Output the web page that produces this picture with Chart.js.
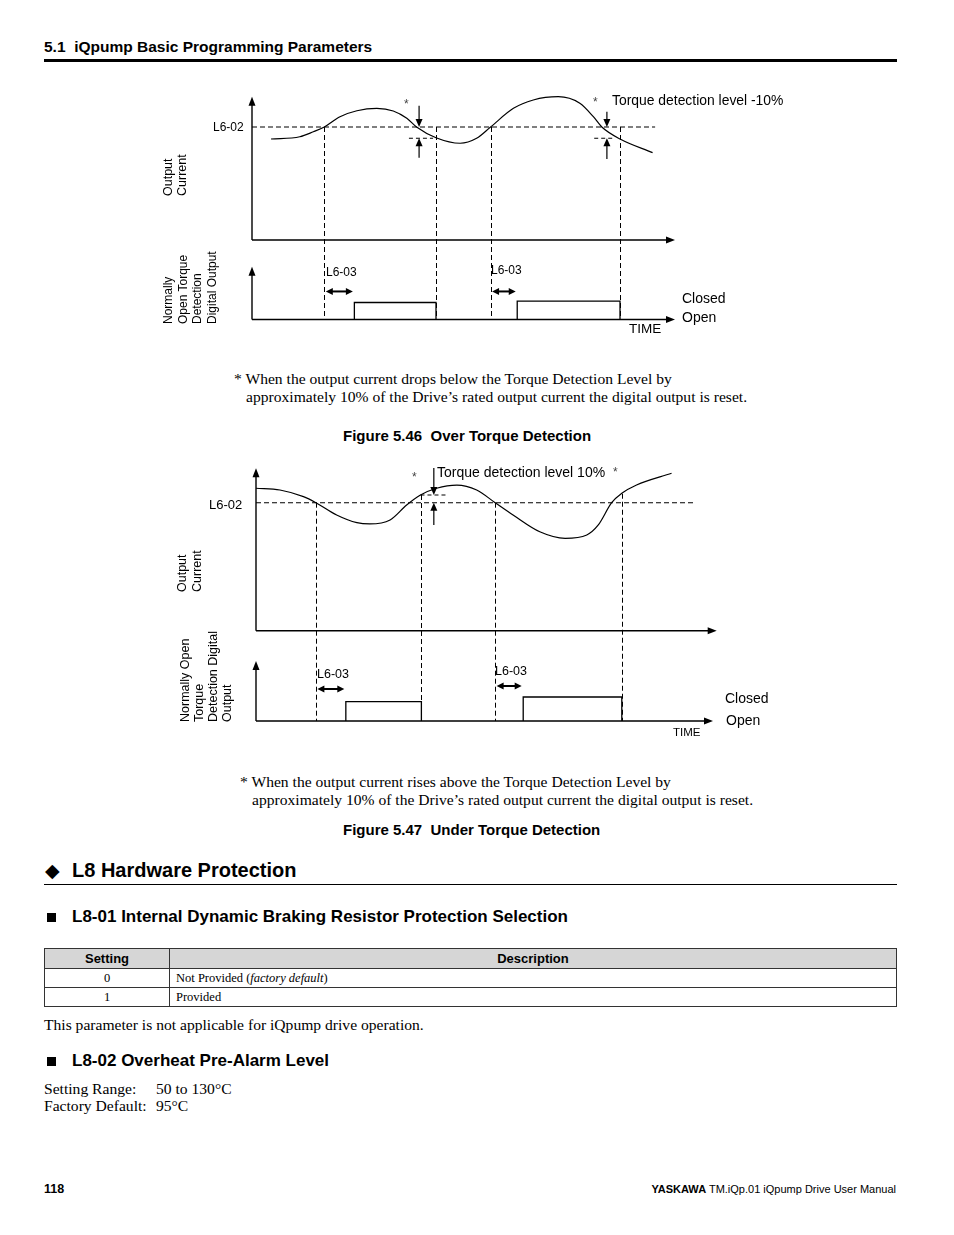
<!DOCTYPE html>
<html><head><meta charset="utf-8">
<script src="https://cdn.jsdelivr.net/npm/chart.js@4/dist/chart.umd.min.js"></script>
<style>
html,body{margin:0;padding:0;background:#fff;}
#page{position:relative;width:954px;height:1235px;overflow:hidden;font-family:"Liberation Sans",Arial,sans-serif;color:#000;}
.t{position:absolute;white-space:nowrap;}
.s{font-family:"Liberation Serif","Times New Roman",serif;}
.b{font-weight:bold;}
.star{position:absolute;font-size:12px;line-height:14px;color:#444;}
.rot{position:absolute;transform:rotate(-90deg);transform-origin:center center;text-align:left;white-space:nowrap;}
canvas{position:absolute;}
table.p{position:absolute;left:44px;top:948px;width:853px;border-collapse:collapse;}
table.p th{font:bold 13px "Liberation Sans",Arial,sans-serif;background:#d6d6d6;border:1px solid #333;height:19px;padding:0;}
table.p td{font:12.5px "Liberation Serif","Times New Roman",serif;border:1px solid #333;height:18px;padding:0 6px;}
table.p td.c{text-align:center;padding:0;}
</style></head>
<body><div id="page">

<div class="t b" style="left:44px;top:38px;font-size:15.5px;line-height:18px">5.1&nbsp;&nbsp;iQpump Basic Programming Parameters</div>
<div style="position:absolute;left:44px;top:59px;width:853px;height:3px;background:#000"></div>

<!-- Figure 5.46 -->
<canvas id="c46" width="650" height="265" style="left:150px;top:85px"></canvas>
<div class="t" style="left:213px;top:120px;font-size:12px;line-height:14px">L6-02</div>
<div class="star" style="left:404px;top:97px">*</div>
<div class="star" style="left:593px;top:95px">*</div>
<div class="t" style="left:612px;top:92px;font-size:13.9px;line-height:16px">Torque detection level -10%</div>
<div class="rot" style="left:145px;top:152px;width:60px;height:28px;font-size:12.5px;line-height:14px">Output<br>Current</div>
<div class="rot" style="left:145px;top:250px;width:90px;height:58px;font-size:12px;line-height:14.6px">Normally<br>Open Torque<br>Detection<br>Digital Output</div>
<div class="t" style="left:326px;top:265px;font-size:12px;line-height:14px">L6-03</div>
<div class="t" style="left:491px;top:263px;font-size:12px;line-height:14px">L6-03</div>
<div class="t" style="left:682px;top:290px;font-size:14px;line-height:16px">Closed</div>
<div class="t" style="left:682px;top:309px;font-size:14px;line-height:16px">Open</div>
<div class="t" style="left:629px;top:321px;font-size:13.5px;line-height:16px">TIME</div>

<div class="t s" style="left:234px;top:370px;font-size:15.6px;line-height:18px">* When the output current drops below the Torque Detection Level by</div>
<div class="t s" style="left:246px;top:388px;font-size:15.6px;line-height:18px">approximately 10% of the Drive’s rated output current the digital output is reset.</div>
<div class="t b" style="left:343px;top:427px;font-size:15px;line-height:18px">Figure 5.46&nbsp;&nbsp;Over Torque Detection</div>

<!-- Figure 5.47 -->
<canvas id="c47" width="650" height="290" style="left:150px;top:455px"></canvas>
<div class="t" style="left:209px;top:497px;font-size:13px;line-height:15px">L6-02</div>
<div class="star" style="left:412px;top:470px">*</div>
<div class="star" style="left:613px;top:465px">*</div>
<div class="t" style="left:437px;top:464px;font-size:14px;line-height:16px">Torque detection level 10%</div>
<div class="rot" style="left:160px;top:547px;width:60px;height:30px;font-size:12.5px;line-height:15px">Output<br>Current</div>
<div class="rot" style="left:157px;top:644px;width:100px;height:56px;font-size:12.5px;line-height:13.9px">Normally Open<br>Torque<br>Detection Digital<br>Output</div>
<div class="t" style="left:317px;top:667px;font-size:12.5px;line-height:14px">L6-03</div>
<div class="t" style="left:495px;top:664px;font-size:12.5px;line-height:14px">L6-03</div>
<div class="t" style="left:725px;top:690px;font-size:14px;line-height:16px">Closed</div>
<div class="t" style="left:726px;top:712px;font-size:14px;line-height:16px">Open</div>
<div class="t" style="left:673px;top:725px;font-size:11.5px;line-height:14px">TIME</div>

<div class="t s" style="left:240px;top:773px;font-size:15.6px;line-height:18px">* When the output current rises above the Torque Detection Level by</div>
<div class="t s" style="left:252px;top:791px;font-size:15.6px;line-height:18px">approximately 10% of the Drive’s rated output current the digital output is reset.</div>
<div class="t b" style="left:343px;top:821px;font-size:15px;line-height:18px">Figure 5.47&nbsp;&nbsp;Under Torque Detection</div>

<!-- Section text -->
<div class="t" style="left:45px;top:858px;font-size:19px;line-height:24px;font-family:'DejaVu Sans',sans-serif">◆</div>
<div class="t b" style="left:72px;top:858px;font-size:20px;line-height:24px">L8 Hardware Protection</div>
<div style="position:absolute;left:44px;top:884px;width:853px;height:1px;background:#000"></div>

<div style="position:absolute;left:47px;top:913px;width:9px;height:9px;background:#000"></div>
<div class="t b" style="left:72px;top:907px;font-size:17px;line-height:20px">L8-01 Internal Dynamic Braking Resistor Protection Selection</div>

<table class="p">
<tr><th style="width:124px">Setting</th><th>Description</th></tr>
<tr><td class="c">0</td><td>Not Provided (<i>factory default</i>)</td></tr>
<tr><td class="c">1</td><td>Provided</td></tr>
</table>

<div class="t s" style="left:44px;top:1016px;font-size:15.6px;line-height:18px">This parameter is not applicable for iQpump drive operation.</div>

<div style="position:absolute;left:47px;top:1057px;width:9px;height:9px;background:#000"></div>
<div class="t b" style="left:72px;top:1051px;font-size:17px;line-height:20px">L8-02 Overheat Pre-Alarm Level</div>

<div class="t s" style="left:44px;top:1080px;font-size:15.6px;line-height:18px">Setting Range:</div>
<div class="t s" style="left:156px;top:1080px;font-size:15.6px;line-height:18px">50 to 130°C</div>
<div class="t s" style="left:44px;top:1097px;font-size:15.6px;line-height:18px">Factory Default:</div>
<div class="t s" style="left:156px;top:1097px;font-size:15.6px;line-height:18px">95°C</div>

<div class="t b" style="left:44px;top:1182px;font-size:12.5px;line-height:15px">118</div>
<div class="t" style="right:58px;top:1183px;font-size:11px;line-height:13px"><b>YASKAWA</b> TM.iQp.01 iQpump Drive User Manual</div>

</div>
<script>
// ---------- Figure 5.46 Over Torque Detection (time units, current in % of L6-02) ----------
const f46Time    = [4.5, 11.3, 14.5, 17.1, 20.8, 24.8, 29.5, 33.4, 36.6, 38.9, 43.5, 49.2, 53.1, 56.4, 61.8, 66.5, 72.4, 77.5, 80.7, 82.7, 87.0, 94.7];
const f46Current = [89.4, 91.4, 95.8, 100, 109.1, 114.4, 116.5, 114.2, 107.7, 100, 90.5, 85.6, 90, 100, 116.5, 123.9, 126.8, 121, 109.1, 100, 89.4, 77.3];
const f46Level = 100;            // L6-02
const f46LevelEnd = 95.3;
const f46Reset = 90;             // L6-02 - 10%
const f46ResetDash = [[37.1, 42.8], [80.9, 85.8]];
const f46Cross = [17.1, 43.5, 56.4, 87.0];
const f46CrossTop = [100, 100, 100, 100];
const f46On = [24.2, 62.7];
const f46Off = [43.5, 87.0];
const f46High = [1.0, 1.08];
const f46DelayY = [1.65, 1.65];
const f46MarkT = [39.5, 83.9];
const f46MarkDown = [[118.8, 100], [113.5, 100]];
const f46MarkUp = [[72.8, 90], [71.7, 90]];
const f46AxisEnd = [100, 100, 126.8, 3.1]; // time axis, digital time axis, current axis top, digital axis top

// ---------- Figure 5.47 Under Torque Detection ----------
const f47Time    = [0, 5.2, 10.3, 13.0, 17.5, 21.9, 24.7, 29.1, 32.7, 35.7, 39.2, 43.6, 47.9, 51.9, 55.8, 61.6, 67.1, 71.8, 74.3, 77.2, 79.4, 82.6, 90.2];
const f47Current = [111.3, 109.9, 104.7, 100, 90.4, 84.4, 83.4, 86.5, 98.2, 106, 111.3, 113.8, 109.9, 100, 90.4, 77.3, 72.2, 74.8, 82.6, 100, 107.3, 113.8, 123.0];
const f47Level = 100;
const f47LevelEnd = 94.9;
const f47Reset = 106;            // L6-02 + 10%
const f47ResetDash = [[35.7, 41.4]];
const f47Cross = [13.0, 35.9, 51.9, 79.4];
const f47CrossTop = [100, 106, 100, 107];
const f47On = [19.5, 58.0];
const f47Off = [35.9, 79.4];
const f47High = [0.97, 1.2];
const f47DelayY = [1.6, 1.75];
const f47MarkT = [38.6];
const f47MarkDown = [[127.1, 106]];
const f47MarkUp = [[82.6, 100]];
const f47AxisEnd = [100, 99.2, 126.9, 3.0];

// layout geometry (page pixels) for each figure
const geo46 = {left:150, top:85, width:650, height:265, x0:252, xPer:4.23, yc0:240, ycPer:1.13, yd0:319.5, ydPer:17};
const geo47 = {left:150, top:455, width:650, height:290, x0:256, xPer:4.607, yc0:630.7, ycPer:1.28, yd0:721, ydPer:20};

function head(ctx, x, y, dir, len, half) {
  ctx.beginPath();
  ctx.moveTo(x, y);
  if (dir === 'up')    { ctx.lineTo(x - half, y + len); ctx.lineTo(x + half, y + len); }
  if (dir === 'down')  { ctx.lineTo(x - half, y - len); ctx.lineTo(x + half, y - len); }
  if (dir === 'right') { ctx.lineTo(x - len, y - half); ctx.lineTo(x - len, y + half); }
  if (dir === 'left')  { ctx.lineTo(x + len, y - half); ctx.lineTo(x + len, y + half); }
  ctx.closePath(); ctx.fill();
}

function build(id, g, d) {
  const pts = d.time.map((t, i) => ({x: t, y: d.cur[i]}));
  const datasets = [
    {data: pts, yAxisID: 'y', borderColor: '#000', borderWidth: 1.2, cubicInterpolationMode: 'monotone'},
    {data: [{x: 0, y: d.level}, {x: d.levelEnd, y: d.level}], yAxisID: 'y', borderColor: '#000', borderWidth: 1.1, borderDash: [5, 3]}
  ];
  d.resetDash.forEach(r => datasets.push({data: [{x: r[0], y: d.reset}, {x: r[1], y: d.reset}], yAxisID: 'y', borderColor: '#000', borderWidth: 1.1, borderDash: [4, 3]}));
  d.on.forEach((on, i) => datasets.push({data: [{x: on, y: 0}, {x: on, y: d.high[i]}, {x: d.off[i], y: d.high[i]}, {x: d.off[i], y: 0}], yAxisID: 'y2', borderColor: '#000', borderWidth: 1.3}));

  const deco = {
    id: 'deco' + id,
    beforeDatasetsDraw(chart) {
      const ctx = chart.ctx, X = chart.scales.x, Yc = chart.scales.y, Yd = chart.scales.y2;
      ctx.save();
      ctx.strokeStyle = '#000'; ctx.lineWidth = 1; ctx.setLineDash([5, 3]);
      d.cross.forEach((t, i) => {
        const x = Math.round(X.getPixelForValue(t)) + 0.5;
        ctx.beginPath(); ctx.moveTo(x, Yc.getPixelForValue(d.crossTop[i])); ctx.lineTo(x, Yd.getPixelForValue(0)); ctx.stroke();
      });
      ctx.restore();
    },
    afterDatasetsDraw(chart) {
      const ctx = chart.ctx, X = chart.scales.x, Yc = chart.scales.y, Yd = chart.scales.y2;
      ctx.save();
      ctx.strokeStyle = '#000'; ctx.fillStyle = '#000'; ctx.setLineDash([]);
      // axes
      ctx.lineWidth = 1.4;
      const x0 = X.getPixelForValue(0), yc0 = Yc.getPixelForValue(0), yd0 = Yd.getPixelForValue(0);
      const xe = X.getPixelForValue(d.axisEnd[0]), xde = X.getPixelForValue(d.axisEnd[1]);
      const yce = Yc.getPixelForValue(d.axisEnd[2]), yde = Yd.getPixelForValue(d.axisEnd[3]);
      ctx.beginPath(); ctx.moveTo(x0, yc0); ctx.lineTo(x0, yce + 6); ctx.moveTo(x0, yc0); ctx.lineTo(xe - 6, yc0); ctx.stroke();
      head(ctx, x0, yce, 'up', 9, 3.5); head(ctx, xe, yc0, 'right', 9, 3.5);
      ctx.beginPath(); ctx.moveTo(x0, yd0); ctx.lineTo(x0, yde + 6); ctx.moveTo(x0, yd0); ctx.lineTo(xde - 6, yd0); ctx.stroke();
      head(ctx, x0, yde, 'up', 9, 3.5); head(ctx, xde, yd0, 'right', 9, 3.5);
      // hysteresis markers
      ctx.lineWidth = 1.2;
      d.markT.forEach((t, i) => {
        const x = X.getPixelForValue(t);
        const a0 = Yc.getPixelForValue(d.markDown[i][0]), a1 = Yc.getPixelForValue(d.markDown[i][1]);
        ctx.beginPath(); ctx.moveTo(x, a0); ctx.lineTo(x, a1 - 5); ctx.stroke(); head(ctx, x, a1, 'down', 8, 3.5);
        const b0 = Yc.getPixelForValue(d.markUp[i][0]), b1 = Yc.getPixelForValue(d.markUp[i][1]);
        ctx.beginPath(); ctx.moveTo(x, b0); ctx.lineTo(x, b1 + 5); ctx.stroke(); head(ctx, x, b1, 'up', 8, 3.5);
      });
      // L6-03 delay double arrows
      ctx.lineWidth = 2;
      d.cross.filter((_, i) => i % 2 === 0).forEach((t, i) => {
        const xa = X.getPixelForValue(t) + 1.5, xb = X.getPixelForValue(d.on[i]) - 1.5, y = Yd.getPixelForValue(d.delayY[i]);
        ctx.beginPath(); ctx.moveTo(xa + 5, y); ctx.lineTo(xb - 5, y); ctx.stroke();
        head(ctx, xa, y, 'left', 7, 3.5); head(ctx, xb, y, 'right', 7, 3.5);
      });
      ctx.restore();
    }
  };

  new Chart(document.getElementById(id), {
    type: 'line',
    data: {datasets},
    options: {
      responsive: false, animation: false, events: [], devicePixelRatio: 1,
      layout: {padding: 0, autoPadding: false},
      elements: {point: {radius: 0, hoverRadius: 0}, line: {tension: 0, fill: false}},
      plugins: {legend: {display: false}, tooltip: {enabled: false}},
      scales: {
        x:  {type: 'linear', display: false, min: (g.left - g.x0) / g.xPer, max: (g.left + g.width - g.x0) / g.xPer},
        y:  {type: 'linear', display: false, min: (g.yc0 - g.top - g.height) / g.ycPer, max: (g.yc0 - g.top) / g.ycPer},
        y2: {type: 'linear', display: false, min: (g.yd0 - g.top - g.height) / g.ydPer, max: (g.yd0 - g.top) / g.ydPer}
      }
    },
    plugins: [deco]
  });
}

build('c46', geo46, {time: f46Time, cur: f46Current, level: f46Level, levelEnd: f46LevelEnd, reset: f46Reset, resetDash: f46ResetDash,
  cross: f46Cross, crossTop: f46CrossTop, on: f46On, off: f46Off, high: f46High, delayY: f46DelayY,
  markT: f46MarkT, markDown: f46MarkDown, markUp: f46MarkUp, axisEnd: f46AxisEnd});
build('c47', geo47, {time: f47Time, cur: f47Current, level: f47Level, levelEnd: f47LevelEnd, reset: f47Reset, resetDash: f47ResetDash,
  cross: f47Cross, crossTop: f47CrossTop, on: f47On, off: f47Off, high: f47High, delayY: f47DelayY,
  markT: f47MarkT, markDown: f47MarkDown, markUp: f47MarkUp, axisEnd: f47AxisEnd});
</script>
</body></html>
